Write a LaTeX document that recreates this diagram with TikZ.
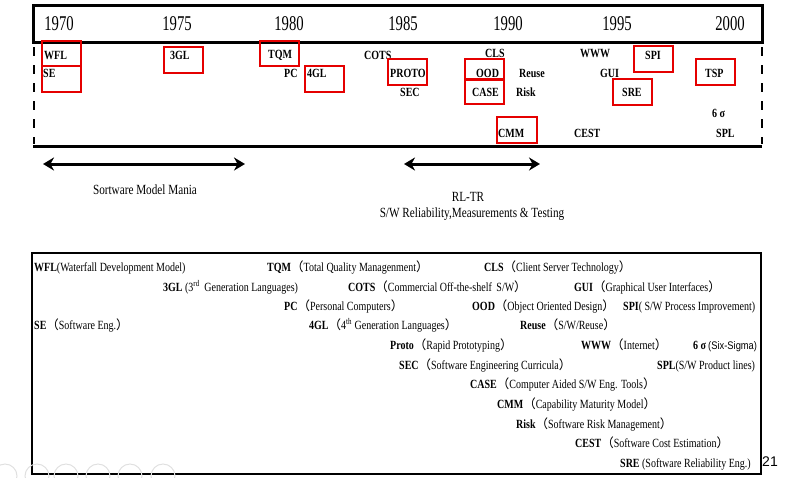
\documentclass[tikz,border=0pt]{standalone}
\usepackage{fontspec}
\usetikzlibrary{arrows.meta}
\setmainfont{Liberation Serif}
\newfontfamily\condfont{Liberation Serif}[FakeStretch=0.8]
\newfontfamily\yearfont{Liberation Serif}[FakeStretch=0.7]
\newfontfamily\cjkfont{Noto Sans CJK SC}
\newfontfamily\armfont{Liberation Sans}
\newfontfamily\condsans{Liberation Sans}[FakeStretch=0.85]
\newcommand\fwl{{\cjkfont （}}
\newcommand\fwr{{\cjkfont ）}}
\begin{document}
\begin{tikzpicture}[x=1pt,y=-1pt,
  year/.style={font=\yearfont\fontsize{21}{21}\selectfont,inner sep=0pt},
  tl/.style={font=\condfont\bfseries\fontsize{12.5}{13}\selectfont,inner sep=0pt,anchor=west},
  redbox/.style={draw=red!90!black,line width=2.4pt},
  frame/.style={line width=3pt},
  dashframe/.style={line width=2.6pt,dash pattern=on 9pt off 9pt},
  era/.style={line width=3pt,{Stealth[length=11pt,width=13pt]}-{Stealth[length=11pt,width=13pt]}},
  eralabel/.style={font=\condfont\fontsize{14}{16}\selectfont,inner sep=0pt},
  gl/.style={font=\condfont\fontsize{12.5}{14}\selectfont,inner sep=0pt,anchor=base west},
  navicon/.style={draw=black!12,line width=1pt}]
\useasboundingbox (0,0) rectangle (789,477);

% ---------- timeline frame ----------
\draw[frame] (33,5) rectangle (762,42);
\draw[frame] (33,146) -- (762,146);
\draw[dashframe] (34,47) -- (34,144);
\draw[dashframe] (762,47) -- (762,144);

\node[year] (y1970) at (59,24) {1970};
\node[year] (y1975) at (177,24) {1975};
\node[year] (y1980) at (289,24) {1980};
\node[year] (y1985) at (403,24) {1985};
\node[year] (y1990) at (508,24) {1990};
\node[year] (y1995) at (617,24) {1995};
\node[year] (y2000) at (730,24) {2000};

% ---------- events on the timeline ----------
\node[tl] (wfl) at (44,55) {WFL};
\node[tl] (se) at (43,73) {SE};
\node[tl] (gl3) at (170,55) {3GL};
\node[tl] (tqm) at (268,55) {TQM};
\node[tl] (pc) at (284,73) {PC};
\node[tl] (gl4) at (307,73) {4GL};
\node[tl] (cots) at (364,55) {COTS};
\node[tl] (proto) at (390,73) {PROTO};
\node[tl] (sec) at (400,92) {SEC};
\node[tl] (cls) at (485,53) {CLS};
\node[tl] (ood) at (476,73) {OOD};
\node[tl] (case) at (472,92) {CASE};
\node[tl] (reuse) at (519,73) {Reuse};
\node[tl] (risk) at (516,92) {Risk};
\node[tl] (cmm) at (498,133) {CMM};
\node[tl] (cest) at (574,133) {CEST};
\node[tl] (www) at (580,53) {WWW};
\node[tl] (gui) at (600,73) {GUI};
\node[tl] (spi) at (645,55) {SPI};
\node[tl] (sre) at (622,92) {SRE};
\node[tl] (tsp) at (705,73) {TSP};
\node[tl] (sigma) at (712,113) {6 σ};
\node[tl] (spl) at (716,133) {SPL};

% highlighted events
\draw[redbox] (42,41) rectangle (81,66);
\draw[redbox] (42,66) rectangle (81,92);
\draw[redbox] (164,47) rectangle (203,73);
\draw[redbox] (260,41) rectangle (299,66);
\draw[redbox] (305,66) rectangle (344,92);
\draw[redbox] (388,59) rectangle (427,85);
\draw[redbox] (465,59) rectangle (504,80);
\draw[redbox] (465,79) rectangle (504,104);
\draw[redbox] (497,117) rectangle (537,143);
\draw[redbox] (634,46) rectangle (673,72);
\draw[redbox] (613,79) rectangle (652,105);
\draw[redbox] (696,59) rectangle (735,85);

% ---------- eras ----------
\coordinate (e1a) at (43,164);
\coordinate (e1b) at (245,164);
\coordinate (e2a) at (404,164);
\coordinate (e2b) at (540,164);
\draw[era] (e1a) -- (e1b);
\draw[era] (e2a) -- (e2b);
\node[eralabel] (mania) at (145,190) {Sortware Model Mania};
\node[eralabel] (rltr) at (468,197) {RL-TR};
\node[eralabel] (rmt) at (472,214) {S/W Reliability,Measurements \& Testing};

% ---------- glossary ----------
\draw[line width=1.5pt] (32,253) rectangle (761,474);

\node[gl] (gwfl) at (34,271) {\textbf{WFL}(Waterfall Development Model)};
\node[gl] (gtqm) at (267,271) {\textbf{TQM}\fwl Total Quality Managenment\fwr};
\node[gl] (gcls) at (484,271) {\textbf{CLS}\fwl Client Server Technology\fwr};

\node[gl] (g3gl) at (163,291) {\textbf{3GL} (3\textsuperscript{rd}\, Generation Languages)};
\node[gl] (gcots) at (348,291) {\textbf{COTS}\fwl Commercial Off-the-shelf\, S/W\fwr};
\node[gl] (ggui) at (574,291) {\textbf{GUI}\fwl Graphical User Interfaces\fwr};

\node[gl] (gpc) at (284,310) {\textbf{PC}\fwl Personal Computers\fwr};
\node[gl] (good) at (472,310) {\textbf{OOD}\fwl Object Oriented Design\fwr};
\node[gl] (gspi) at (623,310) {\textbf{SPI}( S/W Process Improvement)};

\node[gl] (gse) at (34,329) {\textbf{SE}\fwl Software Eng.\fwr};
\node[gl] (g4gl) at (309,329) {\textbf{4GL}\fwl 4\textsuperscript{th} Generation Languages\fwr};
\node[gl] (greuse) at (520,329) {\textbf{Reuse}\fwl S/W/Reuse\fwr};

\node[gl] (gproto) at (390,349) {\textbf{Proto}\fwl Rapid Prototyping\fwr};
\node[gl] (gwww) at (581,349) {\textbf{WWW}\fwl Internet\fwr};
\node[gl] (gsigma) at (693,349) {\textbf{6 σ}\,{\condsans\fontsize{11}{13}\selectfont(Six-Sigma)}};

\node[gl] (gsec) at (399,369) {\textbf{SEC}\fwl Software Engineering Curricula\fwr};
\node[gl] (gspl) at (657,369) {\textbf{SPL}(S/W Product lines)};

\node[gl] (gcase) at (470,388) {\textbf{CASE}\fwl Computer Aided S/W Eng. Tools\fwr};
\node[gl] (gcmm) at (497,408) {\textbf{CMM}\fwl Capability Maturity Model\fwr};
\node[gl] (grisk) at (516,428) {\textbf{Risk}\fwl Software Risk Management\fwr};
\node[gl] (gcest) at (575,447) {\textbf{CEST}\fwl Software Cost Estimation\fwr};
\node[gl] (gsre) at (620,467) {\textbf{SRE} (Software Reliability Eng.)};

% page number
\node[font=\armfont\fontsize{14}{14}\selectfont,inner sep=0pt] (pageno) at (770,462) {21};

% faint navigation buttons
\foreach \cx in {5,37,66,98,130,163}
  \draw[navicon] (\cx,476) circle (12);
\end{tikzpicture}
\end{document}
